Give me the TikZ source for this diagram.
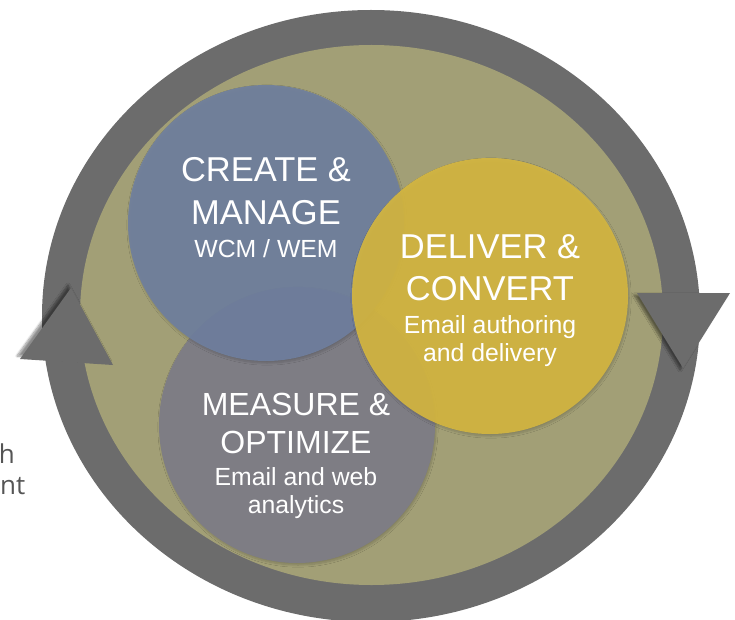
\documentclass[tikz,border=0pt]{standalone}
\usepackage{fontspec}
\setmainfont{Liberation Sans}
\newfontfamily\sidefont{Open Sans}
\usetikzlibrary{shadows.blur}

\definecolor{ringgray}{HTML}{6C6C6C}
\definecolor{olive}{HTML}{A29F76}
\definecolor{slateblue}{HTML}{6F7F9E}
\definecolor{mustard}{HTML}{D4B640}
\definecolor{stone}{HTML}{7E7D84}
\definecolor{sidetext}{HTML}{555555}

\tikzset{
  bubble/.style={circle, minimum size=276pt, inner sep=0pt,
    blur shadow={shadow xshift=1pt, shadow yshift=-2pt, shadow opacity=20, shadow blur steps=8}},
  headline/.style={anchor=base, text=white, font=\fontsize{#1}{36}\selectfont},
  headline/.default=34.5,
  subline/.style={anchor=base, text=white, font=\fontsize{24.8}{28}\selectfont},
  tip/.style={fill=ringgray, blur shadow={shadow xshift=-3pt, shadow yshift=#1, shadow opacity=45, shadow blur steps=8}},
}

\begin{document}
\begin{tikzpicture}[x=1pt,y=-1pt]
    \useasboundingbox (0,0) rectangle (735,620);
    \fill[ringgray] (371,316) ellipse [x radius=329, y radius=306];
    \fill[olive] (371.5,315) ellipse [x radius=291.5, y radius=270];

    \node[bubble, fill=stone] (measure) at (297,425) {};
    \node[bubble, fill=slateblue, fill opacity=0.92] (create) at (266,223) {};
    \node[bubble, fill=mustard, fill opacity=0.92] (deliver) at (490,296) {};

    \node[headline] (create1) at (266,182) {CREATE \&};
    \node[headline] (create2) at (266,225) {MANAGE};
    \node[subline] (create3) at (266,257) {WCM / WEM};

    \node[headline] (deliver1) at (490,258) {DELIVER \&};
    \node[headline] (deliver2) at (490,300) {CONVERT};
    \node[subline] (deliver3) at (490,333) {Email authoring};
    \node[subline] (deliver4) at (490,361) {and delivery};

    \node[headline=32] (measure1) at (296,415) {MEASURE \&};
    \node[headline=32] (measure2) at (296,453) {OPTIMIZE};
    \node[subline] (measure3) at (296,485) {Email and web};
    \node[subline] (measure4) at (296,513) {analytics};

    \fill[tip=3pt] (71,288) -- (20,359) -- (113,365) -- cycle;
    \fill[tip=-2pt] (637,293) -- (730,293) -- (683,368) -- cycle;

    \node[anchor=base east, inner sep=0pt, text=sidetext, font=\sidefont\fontsize{26}{30}\selectfont] (side1) at (15,463) {h};
    \node[anchor=base west, inner sep=0pt, text=sidetext, font=\sidefont\fontsize{26}{30}\selectfont] (side2) at (0,494) {nt};
\end{tikzpicture}
\end{document}
